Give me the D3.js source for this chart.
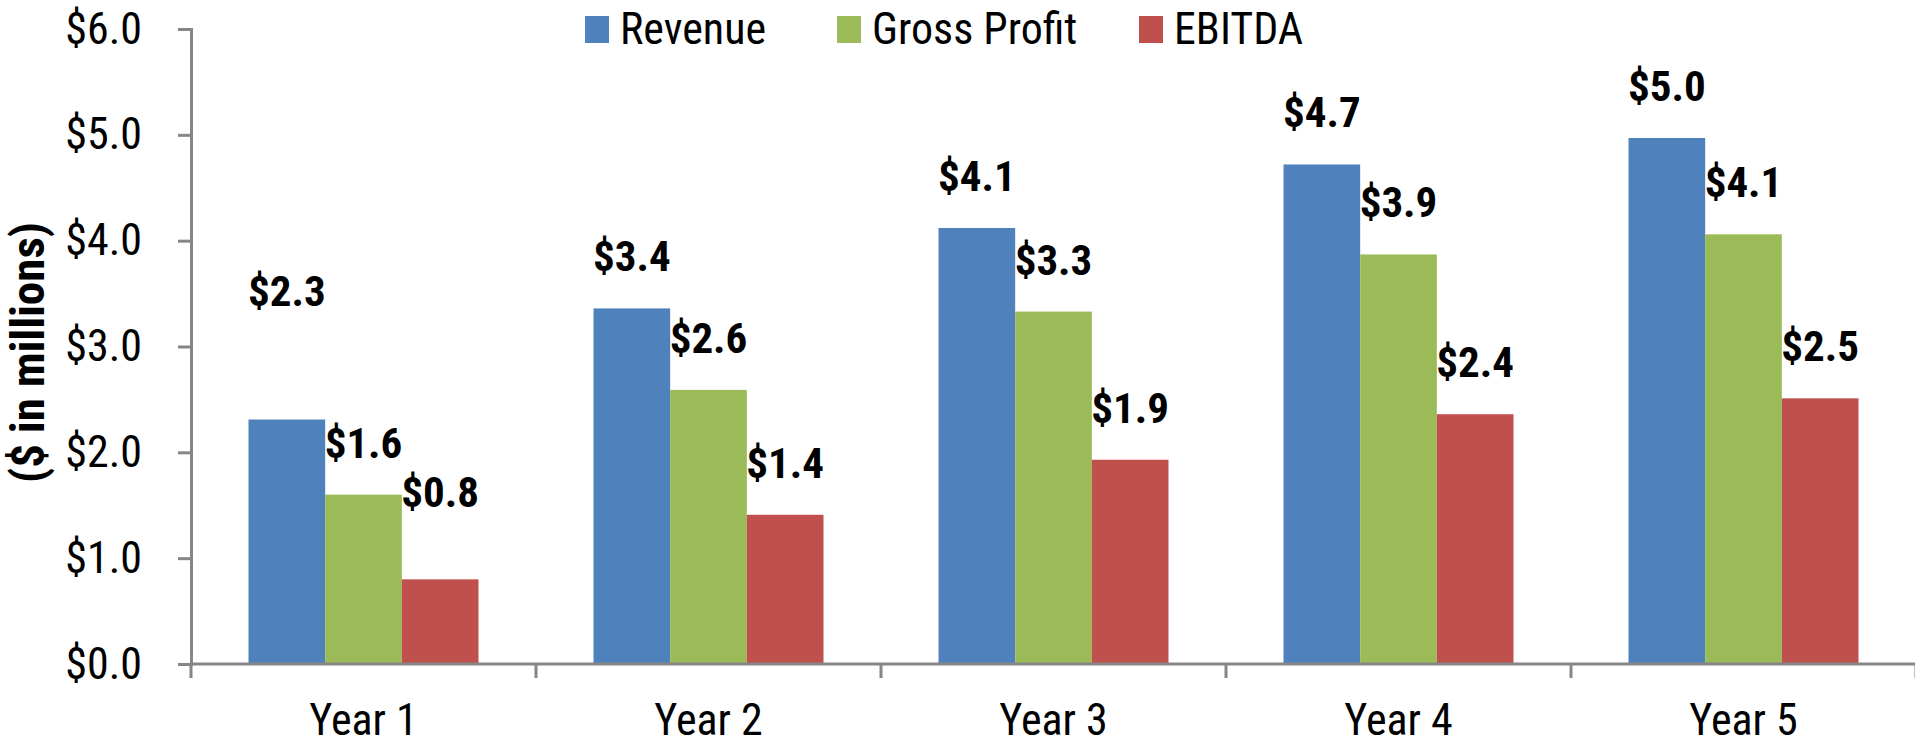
<!DOCTYPE html>
<html>
<head>
<meta charset="utf-8">
<script src="https://cdn.jsdelivr.net/npm/d3@7"></script>
<style>
  html, body { margin: 0; padding: 0; background: #fff; }
  svg text { font-family: "Liberation Sans Narrow", "Arial Narrow", "Roboto Condensed", "Liberation Sans", sans-serif; fill: #000; }
</style>
</head>
<body>
<div id="chart"></div>
<script>
// data
const years = ["Year 1", "Year 2", "Year 3", "Year 4", "Year 5"];
const seriesNames = ["Revenue", "Gross Profit", "EBITDA"];
const revenue = [2.31, 3.36, 4.12, 4.72, 4.97];
const grossProfit = [1.60, 2.59, 3.33, 3.87, 4.06];
const ebitda = [0.80, 1.41, 1.93, 2.36, 2.51];
const yTicks = [0, 1, 2, 3, 4, 5, 6];

const COLORS = { "Revenue": "#4F81BD", "Gross Profit": "#9BBB59", "EBITDA": "#C0504D" };
const AXIS = "#868686";
// labels that were dragged by hand in the original (pixels, up is negative)
const LABEL_NUDGE = { "Year 1|Revenue": -77, "Year 1|EBITDA": -35 };

const width = 1915, height = 749;
const margin = { top: 29, right: 0, bottom: 85, left: 191 };
const plotBottom = height - margin.bottom;

const svg = d3.select("#chart").append("svg")
  .attr("width", width)
  .attr("height", height);

const x = d3.scaleBand().domain(years).range([margin.left, width + 1]).paddingInner(0).paddingOuter(0);
const xSub = d3.scaleBand().domain(seriesNames).range([0, x.bandwidth()]).paddingInner(0).paddingOuter(0.75);
const y = d3.scaleLinear().domain([0, 6]).range([plotBottom, margin.top]);

const rows = years.map((yr, i) => ({
  year: yr,
  values: [
    { key: "Revenue", value: revenue[i] },
    { key: "Gross Profit", value: grossProfit[i] },
    { key: "EBITDA", value: ebitda[i] }
  ]
}));

// bars
const groups = svg.append("g").selectAll("g")
  .data(rows)
  .join("g")
  .attr("transform", d => `translate(${x(d.year)},0)`);

groups.selectAll("rect")
  .data(d => d.values)
  .join("rect")
  .attr("x", d => xSub(d.key))
  .attr("y", d => y(d.value))
  .attr("width", xSub.bandwidth())
  .attr("height", d => plotBottom - y(d.value))
  .attr("fill", d => COLORS[d.key]);

// value labels
const fmt = d3.format("$.1f");
groups.selectAll("text.lbl")
  .data(d => d.values.map(v => ({ ...v, year: d.year })))
  .join("text")
  .attr("class", "lbl")
  .attr("x", d => xSub(d.key) + xSub.bandwidth() / 2)
  .attr("y", d => y(d.value) - 37 + (LABEL_NUDGE[d.year + "|" + d.key] || 0))
  .attr("text-anchor", "middle")
  .style("font-size", "43px")
  .style("font-weight", "bold")
  .text(d => fmt(d.value));

// y axis
const yAxis = svg.append("g")
  .attr("transform", `translate(${margin.left},0)`)
  .call(d3.axisLeft(y).tickValues(yTicks).tickFormat(fmt).tickSize(13).tickPadding(36));
yAxis.select(".domain").attr("stroke", AXIS).attr("stroke-width", 3);
yAxis.selectAll(".tick line").attr("stroke", AXIS).attr("stroke-width", 3);
yAxis.selectAll(".tick text").style("font-size", "44px");

// x axis: line, ticks on category boundaries, labels centred
const xAxis = svg.append("g").attr("transform", `translate(0,${plotBottom})`);
xAxis.append("line")
  .attr("x1", margin.left).attr("x2", width)
  .attr("stroke", AXIS).attr("stroke-width", 3);
const bounds = years.map(d => x(d)).concat([x.range()[1]]);
xAxis.selectAll("line.tk")
  .data(bounds)
  .join("line")
  .attr("class", "tk")
  .attr("x1", d => d).attr("x2", d => d)
  .attr("y1", 0).attr("y2", 14)
  .attr("stroke", AXIS).attr("stroke-width", 3);
xAxis.selectAll("text")
  .data(years)
  .join("text")
  .attr("x", d => x(d) + x.bandwidth() / 2)
  .attr("y", 71)
  .attr("text-anchor", "middle")
  .style("font-size", "44px")
  .text(d => d);

// y title
svg.append("text")
  .attr("transform", `translate(44,${(margin.top + plotBottom) / 2 + 6}) rotate(-90)`)
  .attr("text-anchor", "middle")
  .style("font-size", "47px")
  .style("font-weight", "bold")
  .text("($ in millions)");

// legend
const legendX = [585, 837, 1139];
const legend = svg.append("g").selectAll("g")
  .data(seriesNames)
  .join("g")
  .attr("transform", (d, i) => `translate(${legendX[i]},16)`);
legend.append("rect")
  .attr("width", 24).attr("height", 27)
  .attr("fill", d => COLORS[d]);
legend.append("text")
  .attr("x", 35).attr("y", 28)
  .style("font-size", "44px")
  .text(d => d);
</script>
</body>
</html>
